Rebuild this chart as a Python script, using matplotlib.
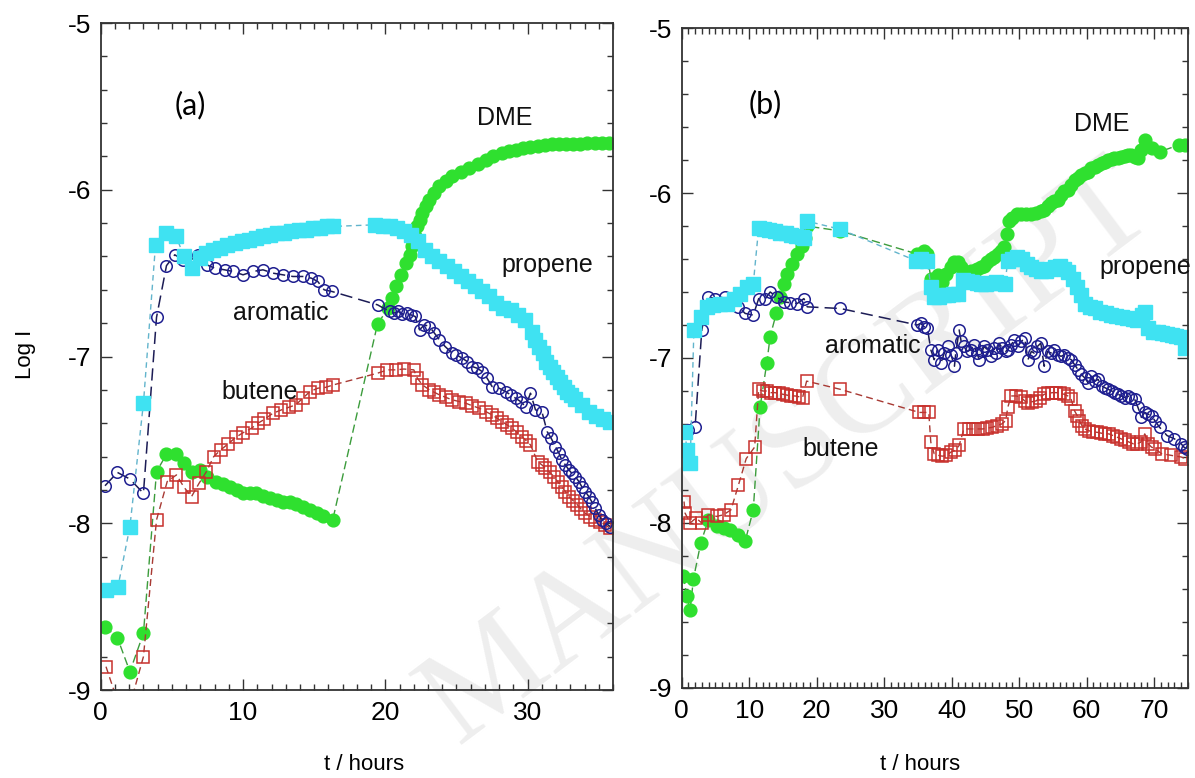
import matplotlib
matplotlib.use("Agg")
import matplotlib.pyplot as plt
from matplotlib.ticker import MultipleLocator

plt.rcParams["font.family"] = ["Liberation Sans", "DejaVu Sans"]
plt.rcParams["axes.unicode_minus"] = False

# ---- panel (a): 0-36 h ----
a_prop_t = [0.4, 1.2, 2.05, 3.0, 3.85, 4.6, 5.3, 5.85, 6.4, 6.95,
            7.4, 7.9, 8.4, 8.9, 9.4, 9.9, 10.4, 10.9, 11.4, 11.9,
            12.4, 12.9, 13.4, 13.9, 14.4, 14.9, 15.4, 15.9, 16.3, 19.3,
            19.8, 20.3, 20.8, 21.3, 21.8, 22.3, 22.8, 23.3, 23.8, 24.3,
            24.8, 25.3, 25.8, 26.3, 26.8, 27.3, 27.8, 28.3, 28.8, 29.3,
            29.8, 30.3, 30.55, 30.8, 31.05, 31.3, 31.55, 31.8, 32.05, 32.3,
            32.55, 32.8, 33.05, 33.3, 33.8, 34.3, 34.8, 35.3, 35.8]
a_prop = [-8.40, -8.385, -8.02, -7.28, -6.33, -6.26, -6.28, -6.40, -6.47, -6.41,
          -6.38, -6.36, -6.35, -6.33, -6.32, -6.31, -6.30, -6.29, -6.28, -6.27,
          -6.26, -6.26, -6.25, -6.24, -6.24, -6.23, -6.23, -6.22, -6.22, -6.21,
          -6.215, -6.22, -6.23, -6.25, -6.27, -6.31, -6.36, -6.40, -6.43, -6.46,
          -6.49, -6.52, -6.55, -6.58, -6.61, -6.64, -6.68, -6.71, -6.72, -6.75,
          -6.78, -6.85, -6.90, -6.94, -6.98, -7.03, -7.06, -7.09, -7.12, -7.15,
          -7.18, -7.21, -7.23, -7.255, -7.29, -7.33, -7.355, -7.375, -7.39]

a_arom_t = [0.3, 1.17, 2.05, 3.0, 3.92, 4.62, 5.2, 5.8, 6.35, 6.85,
            7.45, 8.0, 8.7, 9.3, 10.0, 10.7, 11.4, 12.1, 12.8, 13.5,
            14.2, 14.8, 15.25, 15.7, 16.25, 19.45, 20.3, 20.6, 20.9, 21.2,
            21.5, 21.8, 22.1, 22.4, 22.75, 23.1, 23.45, 23.8, 24.2, 24.7,
            25.0, 25.4, 25.75, 26.1, 26.45, 26.8, 27.15, 27.5, 28.0, 28.45,
            28.8, 29.15, 29.5, 29.85, 30.2, 30.55, 31.0, 31.37, 31.65, 31.95,
            32.2, 32.4, 32.65, 32.9, 33.1, 33.35, 33.6, 33.8, 34.05, 34.3,
            34.5, 34.75, 35.0, 35.2, 35.5, 35.8]
a_arom = [-7.775, -7.695, -7.735, -7.82, -6.765, -6.455, -6.39, -6.42, -6.42, -6.39,
          -6.45, -6.47, -6.48, -6.49, -6.51, -6.49, -6.48, -6.50, -6.51, -6.52,
          -6.52, -6.53, -6.55, -6.60, -6.61, -6.69, -6.73, -6.74, -6.73, -6.745,
          -6.74, -6.75, -6.76, -6.84, -6.81, -6.82, -6.86, -6.90, -6.94, -6.98,
          -6.99, -7.01, -7.03, -7.06, -7.07, -7.09, -7.13, -7.18, -7.19, -7.21,
          -7.23, -7.25, -7.27, -7.30, -7.22, -7.32, -7.33, -7.45, -7.49, -7.54,
          -7.58, -7.62, -7.65, -7.68, -7.70, -7.72, -7.75, -7.78, -7.81, -7.84,
          -7.87, -7.91, -7.95, -7.98, -8.00, -8.02]

a_but_t = [0.37, 1.7, 3.0, 3.92, 4.67, 5.32, 5.86, 6.38, 6.91, 7.43,
           7.94, 8.43, 8.94, 9.48, 10.0, 10.6, 11.05, 11.5, 12.1, 12.7,
           13.2, 13.7, 14.2, 14.7, 15.25, 15.8, 16.35, 19.45, 20.15, 20.75,
           21.3, 22.0, 22.25, 22.6, 23.1, 23.45, 23.8, 24.25, 24.7, 25.2,
           25.65, 26.1, 26.6, 27.05, 27.5, 27.85, 28.2, 28.55, 28.9, 29.25,
           29.6, 29.9, 30.2, 30.7, 31.0, 31.25, 31.55, 31.85, 32.1, 32.4,
           32.65, 32.9, 33.2, 33.5, 33.75, 34.05, 34.4, 34.75, 35.1, 35.45,
           35.8]
a_but = [-8.86, -9.2, -8.80, -7.98, -7.75, -7.71, -7.785, -7.84, -7.76, -7.69,
         -7.60, -7.56, -7.525, -7.485, -7.457, -7.43, -7.40, -7.377, -7.34, -7.32,
         -7.305, -7.29, -7.25, -7.21, -7.19, -7.185, -7.17, -7.10, -7.08, -7.08,
         -7.075, -7.08, -7.13, -7.17, -7.20, -7.215, -7.23, -7.245, -7.26, -7.27,
         -7.28, -7.295, -7.31, -7.33, -7.35, -7.37, -7.39, -7.41, -7.43, -7.455,
         -7.48, -7.505, -7.53, -7.63, -7.65, -7.67, -7.695, -7.72, -7.75, -7.78,
         -7.81, -7.84, -7.865, -7.89, -7.915, -7.94, -7.96, -7.98, -7.995, -8.01,
         -8.03]

a_dme_t = [0.3, 1.17, 2.05, 3.0, 3.92, 4.62, 5.28, 5.86, 6.38, 6.96,
           7.5, 8.1, 8.6, 9.1, 9.6, 10.0, 10.5, 10.9, 11.4, 11.9,
           12.4, 12.8, 13.3, 13.7, 14.2, 14.7, 15.2, 15.6, 16.3, 19.45,
           20.2, 20.5, 20.75, 21.1, 21.45, 21.7, 21.9, 22.1, 22.25, 22.45,
           22.6, 22.85, 23.1, 23.45, 23.8, 24.25, 24.7, 25.3, 25.9, 26.5,
           27.05, 27.6, 28.2, 28.7, 29.2, 29.7, 30.2, 30.7, 31.2, 31.7,
           32.2, 32.7, 33.2, 33.7, 34.2, 34.7, 35.2, 35.7]
a_dme = [-8.62, -8.686, -8.89, -8.66, -7.69, -7.587, -7.587, -7.64, -7.69, -7.68,
         -7.72, -7.75, -7.765, -7.78, -7.80, -7.817, -7.82, -7.82, -7.835, -7.85,
         -7.86, -7.87, -7.875, -7.885, -7.90, -7.92, -7.94, -7.955, -7.98, -6.805,
         -6.71, -6.65, -6.58, -6.51, -6.44, -6.39, -6.34, -6.28, -6.22, -6.18,
         -6.14, -6.10, -6.06, -6.02, -5.98, -5.95, -5.92, -5.895, -5.87, -5.845,
         -5.82, -5.80, -5.78, -5.77, -5.76, -5.75, -5.743, -5.737, -5.732, -5.728,
         -5.726, -5.725, -5.724, -5.723, -5.722, -5.721, -5.72, -5.72]

# ---- panel (b): 0-75 h ----
b_prop_t = [0.5, 0.75, 1.25, 1.8, 2.8, 3.7, 4.7, 5.7, 6.7, 7.7,
            8.7, 9.7, 10.6, 11.4, 12.2, 13.0, 13.8, 14.6, 15.4, 16.2,
            17.0, 17.8, 18.1, 18.5, 23.5, 34.7, 35.4, 36.4, 36.9, 37.4,
            38.1, 38.8, 39.5, 40.2, 40.9, 41.6, 42.3, 43.0, 43.7, 44.4,
            45.1, 45.8, 46.5, 47.2, 47.9, 48.3, 49.0, 49.7, 50.4, 51.1,
            51.8, 52.5, 53.2, 53.9, 54.6, 55.3, 56.0, 56.7, 57.3, 57.9,
            58.5, 59.1, 59.8, 60.5, 61.2, 62.0, 62.8, 63.6, 64.4, 65.2,
            66.0, 66.8, 67.5, 68.2, 68.6, 69.1, 69.8, 70.5, 71.2, 71.9,
            72.6, 73.3, 74.0, 74.5]
b_prop = [-7.447, -7.56, -7.634, -6.83, -6.75, -6.69, -6.68, -6.675, -6.67, -6.64,
          -6.61, -6.57, -6.55, -6.21, -6.22, -6.225, -6.23, -6.24, -6.245, -6.255,
          -6.26, -6.265, -6.27, -6.17, -6.22, -6.41, -6.40, -6.41, -6.57, -6.63,
          -6.63, -6.62, -6.62, -6.615, -6.61, -6.53, -6.535, -6.54, -6.545, -6.55,
          -6.55, -6.545, -6.54, -6.545, -6.55, -6.41, -6.40, -6.39, -6.40, -6.43,
          -6.45, -6.46, -6.47, -6.47, -6.46, -6.45, -6.44, -6.46, -6.48, -6.52,
          -6.57, -6.62, -6.67, -6.69, -6.70, -6.72, -6.73, -6.74, -6.745, -6.75,
          -6.76, -6.765, -6.77, -6.74, -6.72, -6.82, -6.84, -6.845, -6.85, -6.855,
          -6.86, -6.865, -6.87, -6.94]

b_arom_t = [0.15, 0.98, 1.98, 2.97, 3.96, 4.95, 6.43, 7.4, 8.4, 9.4,
            10.6, 11.4, 12.4, 13.1, 14.1, 15.1, 16.1, 17.1, 18.1, 18.6,
            23.5, 34.9, 35.4, 35.9, 36.4, 36.9, 37.4, 37.9, 38.4, 38.9,
            39.4, 39.9, 40.4, 40.6, 41.1, 41.4, 41.8, 42.3, 42.8, 43.3,
            43.7, 44.1, 44.5, 44.8, 45.3, 45.8, 46.3, 46.6, 47.0, 47.5,
            48.0, 48.3, 48.8, 49.3, 49.8, 50.3, 50.8, 51.3, 51.8, 52.2,
            52.7, 53.2, 53.7, 54.2, 54.7, 55.2, 55.7, 56.2, 56.7, 57.2,
            57.7, 58.2, 58.7, 59.2, 59.7, 60.2, 60.7, 61.2, 61.7, 62.2,
            62.7, 63.2, 63.7, 64.2, 64.7, 65.1, 65.6, 66.1, 66.6, 67.1,
            67.6, 68.1, 68.6, 69.1, 69.6, 70.1, 70.8, 71.9, 73.0, 74.0,
            74.4, 74.8]
b_arom = [-7.457, -7.437, -7.416, -6.83, -6.63, -6.64, -6.63, -6.65, -6.69, -6.73,
          -6.74, -6.64, -6.64, -6.60, -6.63, -6.66, -6.665, -6.67, -6.64, -6.69,
          -6.70, -6.80, -6.79, -6.81, -6.82, -6.95, -7.01, -6.95, -7.03, -6.97,
          -6.93, -6.98, -7.05, -6.97, -6.83, -6.90, -6.93, -6.96, -6.95, -6.92,
          -6.97, -7.01, -6.96, -6.93, -6.95, -6.99, -6.94, -6.97, -6.91, -6.94,
          -6.96, -6.95, -6.92, -6.89, -6.93, -6.90, -6.88, -7.01, -6.96, -6.97,
          -6.93, -6.91, -7.05, -6.96, -6.97, -6.95, -6.98, -6.99, -6.98, -7.00,
          -7.01, -7.04, -7.07, -7.10, -7.12, -7.15, -7.11, -7.14, -7.13, -7.17,
          -7.18, -7.19, -7.20, -7.21, -7.22, -7.23, -7.24, -7.23, -7.24, -7.25,
          -7.30, -7.36, -7.33, -7.34, -7.35, -7.38, -7.42, -7.47, -7.49, -7.52,
          -7.54, -7.55]

b_but_t = [0.34, 0.49, 1.23, 2.12, 2.97, 3.96, 5.2, 6.2, 7.3, 8.4,
           9.55, 10.8, 11.4, 12.0, 12.6, 13.2, 13.8, 14.4, 15.0, 15.6,
           16.2, 16.8, 17.4, 17.9, 18.5, 23.5, 35.2, 35.9, 36.6, 36.9,
           37.4, 38.0, 38.6, 39.2, 39.9, 40.5, 41.1, 41.8, 42.5, 43.2,
           43.9, 44.6, 45.3, 46.0, 46.7, 47.4, 48.0, 48.3, 48.8, 49.5,
           50.2, 50.8, 51.3, 51.9, 52.5, 53.1, 53.7, 54.3, 54.9, 55.5,
           56.1, 56.7, 57.2, 57.7, 58.2, 58.6, 58.9, 59.3, 59.7, 60.3,
           60.9, 61.5, 62.1, 62.7, 63.3, 63.9, 64.5, 65.1, 65.7, 66.3,
           66.9, 67.5, 68.0, 68.6, 69.1, 69.6, 70.1, 71.1, 72.5, 74.0,
           74.6]
b_but = [-7.87, -7.94, -8.00, -7.97, -8.00, -7.95, -7.96, -7.95, -7.92, -7.77,
         -7.61, -7.54, -7.19, -7.20, -7.20, -7.21, -7.21, -7.215, -7.22, -7.225,
         -7.23, -7.23, -7.235, -7.24, -7.14, -7.19, -7.33, -7.33, -7.33, -7.51,
         -7.58, -7.59, -7.595, -7.59, -7.57, -7.56, -7.53, -7.43, -7.43, -7.43,
         -7.43, -7.43, -7.425, -7.42, -7.41, -7.40, -7.38, -7.30, -7.23, -7.23,
         -7.235, -7.26, -7.27, -7.265, -7.26, -7.24, -7.22, -7.215, -7.21, -7.21,
         -7.215, -7.22, -7.23, -7.25, -7.32, -7.35, -7.38, -7.41, -7.43, -7.44,
         -7.45, -7.45, -7.455, -7.46, -7.46, -7.47, -7.48, -7.49, -7.50, -7.51,
         -7.52, -7.52, -7.51, -7.46, -7.52, -7.54, -7.55, -7.58, -7.59, -7.60,
         -7.61]

b_dme_t = [0.24, 0.74, 1.23, 1.73, 2.82, 3.96, 5.2, 6.2, 7.2, 8.4,
           9.4, 10.6, 11.6, 12.6, 13.1, 14.0, 14.6, 15.1, 15.6, 16.3,
           17.1, 17.8, 18.3, 18.5, 23.5, 34.9, 35.9, 36.4, 36.9, 37.4,
           37.9, 38.6, 39.2, 39.9, 40.4, 40.9, 41.4, 41.8, 42.3, 42.8,
           43.3, 43.8, 44.3, 44.8, 45.3, 45.8, 46.3, 46.8, 47.3, 47.8,
           48.2, 48.5, 49.0, 49.6, 50.3, 51.0, 51.8, 52.5, 53.2, 53.7,
           54.2, 54.7, 55.2, 55.7, 56.2, 56.7, 57.2, 57.7, 58.2, 58.7,
           59.2, 59.7, 60.2, 60.7, 61.2, 61.7, 62.2, 62.7, 63.2, 63.7,
           64.1, 64.6, 65.1, 65.6, 66.1, 66.6, 67.1, 67.6, 68.1, 68.6,
           69.6, 70.8, 73.6, 74.5]
b_dme = [-8.32, -8.44, -8.53, -8.34, -8.12, -7.98, -8.02, -8.03, -8.04, -8.07,
         -8.11, -7.92, -7.30, -7.03, -6.87, -6.73, -6.63, -6.55, -6.49, -6.43,
         -6.37, -6.32, -6.27, -6.20, -6.23, -6.37, -6.35, -6.37, -6.52, -6.56,
         -6.50, -6.54, -6.49, -6.45, -6.42, -6.42, -6.45, -6.50, -6.49, -6.47,
         -6.47, -6.46, -6.45, -6.44, -6.42, -6.40, -6.39, -6.37, -6.35, -6.33,
         -6.25, -6.17, -6.15, -6.13, -6.13, -6.13, -6.13, -6.12, -6.11, -6.10,
         -6.08, -6.06, -6.05, -6.04, -6.01, -5.99, -5.98, -5.95, -5.92, -5.91,
         -5.89, -5.88, -5.87, -5.85, -5.84, -5.83, -5.82, -5.81, -5.80, -5.795,
         -5.79, -5.785, -5.78, -5.775, -5.77, -5.77, -5.78, -5.79, -5.74, -5.68,
         -5.73, -5.75, -5.71, -5.71]

# marker / line styles per species
STYLE = {
    "dme": dict(marker="o", ms=9.2, mfc="#2fe02f", mec="#2fe02f",
                color="#3c9c3c", ls=(0, (6, 3)), lw=1.0),
    "butene": dict(marker="s", ms=8, mfc="none", mec="#c8302c", mew=1.1,
                   color="#a83a34", ls=(0, (5, 3)), lw=1.0),
    "aromatic": dict(marker="o", ms=8.3, mfc="none", mec="#1e1e90", mew=1.1,
                     color="#1c1c55", ls=(0, (8, 4)), lw=1.1),
    "propene": dict(marker="s", ms=9.8, mfc="#3fe2f2", mec="#3fe2f2",
                    color="#62b4cc", ls=(0, (4, 3)), lw=1.0),
}


def style_axis(ax, xmax):
    ax.set_xlim(0, xmax)
    ax.set_ylim(-9, -5)
    ax.xaxis.set_major_locator(MultipleLocator(10))
    ax.xaxis.set_minor_locator(MultipleLocator(1))
    ax.yaxis.set_major_locator(MultipleLocator(1))
    ax.yaxis.set_minor_locator(MultipleLocator(0.2))
    ax.tick_params(which="both", direction="in", top=True, right=True,
                   width=1.0, color="#333333", labelsize=19)
    ax.tick_params(which="major", length=8)
    ax.tick_params(which="minor", length=4.5)
    ax.tick_params(axis="x", pad=8)
    ax.tick_params(axis="y", pad=7)
    for sp in ax.spines.values():
        sp.set_color("#333333")
        sp.set_linewidth(1.3)
    ax.set_facecolor("none")


fig = plt.figure(figsize=(11.95, 7.78), dpi=100)
ax_a = fig.add_axes([0.0843, 0.1131, 0.4287, 0.8573])
ax_b = fig.add_axes([0.5705, 0.1157, 0.4236, 0.8483])

ax_a.plot(a_dme_t, a_dme, **STYLE["dme"])
ax_a.plot(a_but_t, a_but, **STYLE["butene"])
ax_a.plot(a_arom_t, a_arom, **STYLE["aromatic"])
ax_a.plot(a_prop_t, a_prop, **STYLE["propene"])

ax_b.plot(b_dme_t, b_dme, **STYLE["dme"])
ax_b.plot(b_but_t, b_but, **STYLE["butene"])
ax_b.plot(b_arom_t, b_arom, **STYLE["aromatic"])
ax_b.plot(b_prop_t, b_prop, **STYLE["propene"])

style_axis(ax_a, 36)
style_axis(ax_b, 75)

# species labels
lbl = dict(fontsize=18, ha="center", va="center", color="#111111")
ax_a.text(6.3, -5.49, "(a)", fontsize=22, family=["Lato", "DejaVu Sans"],
          ha="center", va="center")
ax_a.text(28.4, -5.57, "DME", **lbl)
ax_a.text(31.4, -6.45, "propene", **lbl)
ax_a.text(12.65, -6.74, "aromatic", **lbl)
ax_a.text(11.2, -7.21, "butene", **lbl)

ax_b.text(12.3, -5.46, "(b)", fontsize=22, family=["Lato", "DejaVu Sans"],
          ha="center", va="center")
ax_b.text(62.2, -5.58, "DME", **lbl)
ax_b.text(68.7, -6.45, "propene", **lbl)
ax_b.text(28.35, -6.93, "aromatic", **lbl)
ax_b.text(23.6, -7.55, "butene", **lbl)

fig.text(0.021, 0.545, "Log I", rotation=90, fontsize=16,
         ha="center", va="center")
fig.text(0.305, 0.004, "t / hours", fontsize=16, ha="center", va="bottom")
fig.text(0.770, 0.004, "t / hours", fontsize=16, ha="center", va="bottom")

# faint diagonal watermark behind the data
fig.text(0.66, 0.415, "MANUSCRIPT", rotation=37, fontsize=98,
         family=["Liberation Serif", "DejaVu Serif"], color="#eeeeee",
         ha="center", va="center", zorder=-5)

fig.savefig("out.png", dpi=100)
